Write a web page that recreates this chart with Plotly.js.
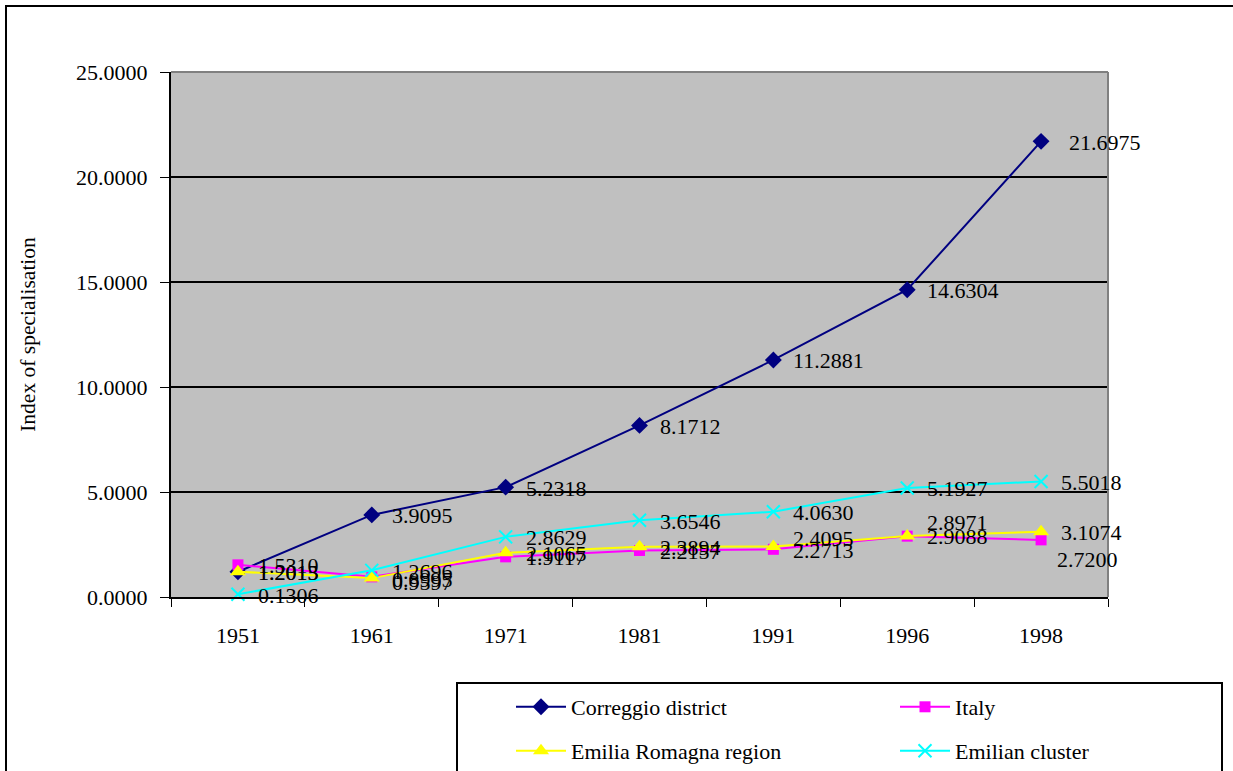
<!DOCTYPE html>
<html>
<head>
<meta charset="utf-8">
<script src="https://cdn.plot.ly/plotly-3.0.1.min.js"></script>
<style>
  html, body { margin: 0; padding: 0; background: #ffffff; }
  #chart { width: 1233px; height: 771px; }
</style>
</head>
<body>
<div id="chart"></div>
<script>
// ---- data ----
const years = ['1951', '1961', '1971', '1981', '1991', '1996', '1998'];
const correggio = [1.2015, 3.9095, 5.2318, 8.1712, 11.2881, 14.6304, 21.6975];
const italy = [1.5310, 0.9597, 1.9117, 2.2157, 2.2713, 2.8971, 2.7200];
const emilia = [1.2013, 0.8995, 2.1065, 2.3894, 2.4095, 2.9088, 3.1074];
const cluster = [0.1306, 1.2696, 2.8629, 3.6546, 4.0630, 5.1927, 5.5018];
const seriesNames = ['Correggio district', 'Italy', 'Emilia Romagna region', 'Emilian cluster'];
const yTitle = 'Index of specialisation';

// ---- geometry helpers (pixel -> paper) ----
const L = 171, R = 1108, T = 72, B = 597;
const px = x => (x - L) / (R - L);
const py = y => (B - y) / (B - T);

const FONT = 'Liberation Serif, Times New Roman, serif';

const styles = [
  {color: '#000080', symbol: 'diamond', size: 13, lw: 0, legend: 'legend',  lx: 511, ly: 707},
  {color: '#FF00FF', symbol: 'square', size: 11, lw: 0, legend: 'legend2', lx: 895, ly: 707},
  {color: '#FFFF00', symbol: 'triangle-up', size: 14, lw: 0, legend: 'legend3', lx: 511, ly: 751},
  {color: '#00FFFF', symbol: 'x-thin', size: 13, lw: 2, legend: 'legend4', lx: 895, ly: 751}
];
const allSeries = [correggio, italy, emilia, cluster];

const traces = allSeries.map((vals, i) => ({
  type: 'scatter',
  mode: 'lines+markers',
  x: years,
  y: vals,
  name: seriesNames[i],
  legend: styles[i].legend,
  cliponaxis: false,
  line: {color: styles[i].color, width: 2},
  marker: {color: styles[i].color, symbol: styles[i].symbol, size: styles[i].size,
           line: {color: styles[i].color, width: styles[i].lw}}
}));

// label nudges (style only): [dx, dy] in px, keyed by series index and point index
const nudge = {
  '0:6': [26, -1],
  '1:5': [18, 14],
  '1:6': [14, -20],
  '2:4': [18, 8],
  '1:1': [18, -6],
  '2:1': [18, -1]
};

const annotations = [];
allSeries.forEach((vals, i) => {
  vals.forEach((v, j) => {
    const n = nudge[i + ':' + j] || [18, -1];
    annotations.push({
      x: j, y: v, xref: 'x', yref: 'y',
      text: v.toFixed(4), showarrow: false,
      xanchor: 'left', yanchor: 'middle',
      xshift: n[0], yshift: n[1],
      font: {family: FONT, size: 22, color: '#000000'}
    });
  });
});

const shapes = [
  {type: 'line', xref: 'paper', yref: 'paper', x0: 0, x1: 1, y0: 1, y1: 1,
   line: {color: '#808080', width: 2}},
  {type: 'line', xref: 'paper', yref: 'paper', x0: 1, x1: 1, y0: 0, y1: 1,
   line: {color: '#808080', width: 2}},
  {type: 'rect', xref: 'paper', yref: 'paper', x0: px(6), x1: px(1300), y0: py(6), y1: py(900),
   line: {color: '#000000', width: 2}, fillcolor: 'rgba(0,0,0,0)'},
  {type: 'rect', xref: 'paper', yref: 'paper', x0: px(457), x1: px(1222), y0: py(683), y1: py(900),
   line: {color: '#000000', width: 2}, fillcolor: 'rgba(0,0,0,0)'}
];

const layout = {
  width: 1233, height: 771,
  margin: {l: L, r: 1233 - R, t: T, b: 771 - B, autoexpand: false},
  paper_bgcolor: '#ffffff',
  plot_bgcolor: '#C0C0C0',
  showlegend: true,
  font: {family: FONT, color: '#000000'},
  xaxis: {
    type: 'category', range: [-0.5, 6.5],
    tickson: 'boundaries', ticks: 'outside', ticklen: 8, tickwidth: 1, tickcolor: '#000',
    showline: true, linecolor: '#000', linewidth: 2,
    showgrid: false, zeroline: false,
    ticklabelstandoff: 18,
    tickfont: {family: FONT, size: 22, color: '#000'},
    fixedrange: true
  },
  yaxis: {
    range: [0, 25], dtick: 5, tick0: 0, tickformat: '.4f',
    ticks: 'outside', ticklen: 9, tickwidth: 1, tickcolor: '#000',
    showline: true, linecolor: '#000', linewidth: 2,
    showgrid: true, gridcolor: '#000', gridwidth: 1.5,
    zeroline: false,
    ticklabelstandoff: 8,
    tickfont: {family: FONT, size: 22, color: '#000'},
    title: {text: yTitle, standoff: 35, font: {family: FONT, size: 21.5, color: '#000'}},
    automargin: false,
    fixedrange: true
  },
  annotations: annotations,
  shapes: shapes
};

styles.forEach(s => {
  layout[s.legend] = {
    x: px(s.lx), y: py(s.ly), xanchor: 'left', yanchor: 'middle',
    orientation: 'h', bgcolor: 'rgba(0,0,0,0)', borderwidth: 0,
    itemwidth: 50,
    font: {family: FONT, size: 22, color: '#000000'}
  };
});

Plotly.newPlot('chart', traces, layout, {staticPlot: true, displayModeBar: false});
</script>
</body>
</html>
